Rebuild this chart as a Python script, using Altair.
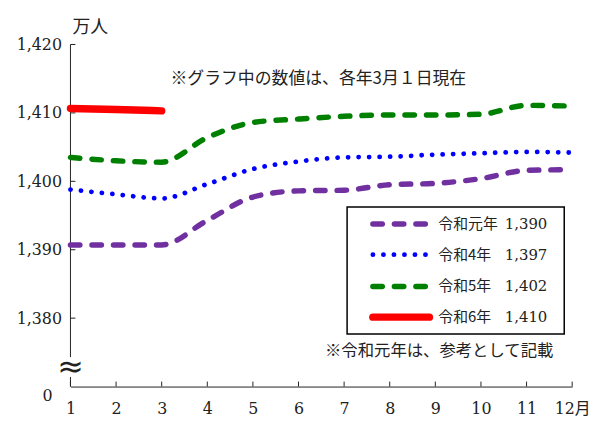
import altair as alt
import pandas as pd

months = list(range(1, 13))
series_names = ["令和元年", "令和4年", "令和5年", "令和6年"]
series_numbers = ["1,390", "1,397", "1,402", "1,410"]
r1 = [1390.7, 1390.7, 1390.7, 1394.3, 1397.7, 1398.6, 1398.7, 1399.5, 1399.7, 1400.4, 1401.6, 1401.7]
r4 = [1398.8, 1398.1, 1397.5, 1399.6, 1401.8, 1402.9, 1403.5, 1403.6, 1403.9, 1404.1, 1404.3, 1404.2]
r5 = [1403.5, 1403.0, 1402.8, 1406.4, 1408.6, 1409.1, 1409.5, 1409.7, 1409.7, 1409.8, 1411.1, 1411.0]
r6 = [1410.65, 1410.5, 1410.3]
y_ticks = [1380, 1390, 1400, 1410, 1420]
y_min, y_max = 1370, 1420
note_top = "※グラフ中の数値は、各年3月１日現在"
note_bottom = "※令和元年は、参考として記載"
unit_label = "万人"

W, H = 506, 345
SERIF = "DejaVu Serif, Noto Sans CJK JP"
CJK = "Noto Sans CJK JP"
INK = "#222222"

styles = [
    dict(color="#7030A0", strokeWidth=5.5, strokeDash=[9.5, 12.2]),
    dict(color="#0000FF", strokeWidth=4.8, strokeDash=[0.1, 10.5]),
    dict(color="#008000", strokeWidth=5.5, strokeDash=[9.5, 12.2]),
    dict(color="#FF0000", strokeWidth=7.5),
]
all_values = [r1, r4, r5, r6]

rows = []
for name, vals in zip(series_names, all_values):
    for m, v in zip(months, vals):
        rows.append({"month": m, "value": v, "series": name})
df = pd.DataFrame(rows)

xscale = alt.Scale(domain=[1, 12], nice=False, zero=False)
yscale = alt.Scale(domain=[y_min, y_max], nice=False, zero=False)

base = alt.Chart(df)

layers = []
axis_layer = base.mark_line(opacity=0).encode(
    x=alt.X("month:Q", scale=xscale, axis=alt.Axis(
        values=months, labelExpr="datum.value == 12 ? '12月' : datum.label",
        domain=True, domainColor=INK, domainWidth=1, ticks=False, tickSize=0,
        labelPadding=14, labelFont=SERIF, labelFontSize=16, labelColor=INK,
        labelFlush=False, labelOverlap=False, labelBound=False, grid=False, title=None)),
    y=alt.Y("value:Q", scale=yscale, axis=alt.Axis(
        values=y_ticks, format=",", domain=False, ticks=False, tickSize=0,
        labelPadding=9, labelFont=SERIF, labelFontSize=16, labelColor=INK,
        labelOverlap=False, grid=False, title=None)),
    detail="series:N",
)
layers.append(axis_layer)

# y axis line with break
ydf = pd.DataFrame({"y": [y_max], "y2": [1374.3]})
layers.append(alt.Chart(ydf).mark_rule(color=INK, strokeWidth=1).encode(
    x=alt.value(0), y=alt.Y("y:Q", scale=yscale), y2="y2:Q"))
ydf2 = pd.DataFrame({"y": [1371.4], "y2": [y_min]})
layers.append(alt.Chart(ydf2).mark_rule(color=INK, strokeWidth=1).encode(
    x=alt.value(0), y=alt.Y("y:Q", scale=yscale), y2="y2:Q"))
layers.append(alt.Chart(pd.DataFrame({"y": [1372.9]})).mark_text(
    text="≈", font="DejaVu Sans", fontSize=32, color=INK, baseline="middle").encode(
    x=alt.value(0), y=alt.Y("y:Q", scale=yscale)))
layers.append(alt.Chart(pd.DataFrame({"y": [y_min]})).mark_text(
    text="0", font=SERIF, fontSize=16, color=INK, dx=-23, dy=10, baseline="middle").encode(
    x=alt.value(0), y=alt.Y("y:Q", scale=yscale)))

# inward ticks
layers.append(alt.Chart(pd.DataFrame({"y": y_ticks})).mark_rule(color=INK, strokeWidth=1).encode(
    y=alt.Y("y:Q", scale=yscale), x=alt.value(0), x2=alt.value(5)))
layers.append(alt.Chart(pd.DataFrame({"m": months})).mark_rule(color=INK, strokeWidth=1).encode(
    x=alt.X("m:Q", scale=xscale), y=alt.value(H), y2=alt.value(H - 5)))

# data lines
for name, st in zip(series_names, styles):
    layers.append(base.transform_filter(alt.datum.series == name).mark_line(
        interpolate="monotone", strokeCap="round", strokeJoin="round", **st).encode(
        x=alt.X("month:Q", scale=xscale), y=alt.Y("value:Q", scale=yscale)))

# legend box
layers.append(alt.Chart(pd.DataFrame({"a": [0]})).mark_rect(
    fill="white", stroke="black", strokeWidth=1.5).encode(
    x=alt.value(279), x2=alt.value(498), y=alt.value(164), y2=alt.value(292)))
row_y = [181, 212, 244, 275]
for name, num, st, ry in zip(series_names, series_numbers, styles, row_y):
    layers.append(alt.Chart(pd.DataFrame({"a": [0]})).mark_rule(strokeCap="round", **st).encode(
        x=alt.value(305), x2=alt.value(362), y=alt.value(ry)))
    layers.append(alt.Chart(pd.DataFrame({"a": [0]})).mark_text(
        text=name, font=CJK, fontSize=15, color=INK, align="left", baseline="middle").encode(
        x=alt.value(371), y=alt.value(ry)))
    layers.append(alt.Chart(pd.DataFrame({"a": [0]})).mark_text(
        text=num, font=SERIF, fontSize=15, color=INK, align="left", baseline="middle").encode(
        x=alt.value(438), y=alt.value(ry)))

# annotations
layers.append(alt.Chart(pd.DataFrame({"a": [0]})).mark_text(
    text=note_top, font=CJK, fontSize=17, color=INK, align="center", baseline="middle").encode(
    x=alt.value(250), y=alt.value(35)))
layers.append(alt.Chart(pd.DataFrame({"a": [0]})).mark_text(
    text=note_bottom, font=CJK, fontSize=16.5, color=INK, align="right", baseline="middle").encode(
    x=alt.value(487), y=alt.value(309)))
layers.append(alt.Chart(pd.DataFrame({"a": [0]})).mark_text(
    text=unit_label, font=CJK, fontSize=18, color=INK, align="left", baseline="middle").encode(
    x=alt.value(2), y=alt.value(-17)))

chart = alt.layer(*layers).properties(
    width=W, height=H,
    autosize=alt.AutoSizeParams(type="none"),
    padding={"left": 63, "top": 35, "right": 20, "bottom": 40},
    background="white",
).configure_view(stroke=None)

chart.save("out.html", embed_options={"renderer": "svg", "actions": False})
